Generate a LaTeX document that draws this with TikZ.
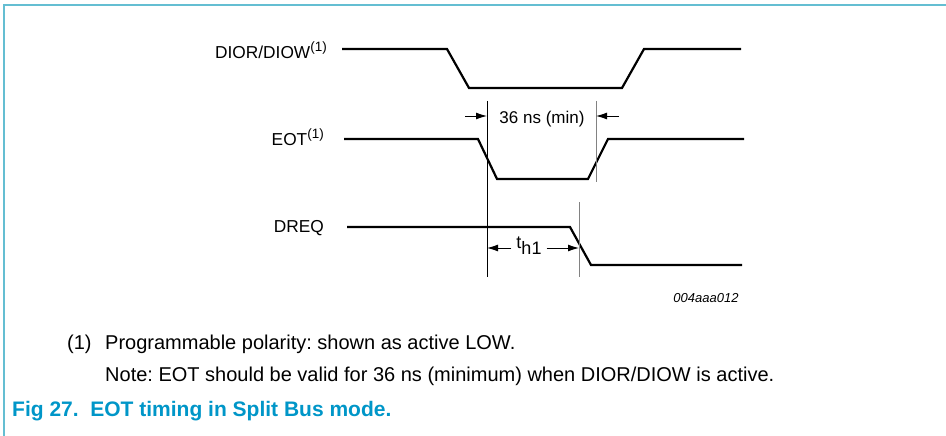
\documentclass[tikz,border=0pt]{standalone}
\usepackage{fontspec}
\setmainfont{Liberation Sans}
\usetikzlibrary{arrows.meta}
\definecolor{figblue}{RGB}{0,150,200}
\definecolor{framecol}{RGB}{100,190,210}
\definecolor{guidegray}{RGB}{130,130,130}
\tikzstyle{wave} = [draw, line width=2.2pt, line join=miter]
\tikzstyle{guide} = [draw, line width=0.9pt]
\tikzstyle{dim} = [draw, line width=0.9pt, -{Latex[length=11pt,width=7pt]}]
\tikzstyle{sig} = [anchor=east, inner sep=0pt, font=\fontsize{17.3}{19}\selectfont]
\tikzstyle{txt} = [inner sep=0pt, font=\fontsize{17}{19}\selectfont]
\tikzstyle{notetxt} = [inner sep=0pt, anchor=west, font=\fontsize{20}{22}\selectfont\frenchspacing]
\newcommand{\fn}{\raisebox{7pt}{\fontsize{13.5}{13.5}\selectfont(1)}}

\begin{document}
\begin{tikzpicture}[x=1pt,y=-1pt]
\useasboundingbox (0,0) rectangle (946,436);
% frame
\draw[framecol, line width=2pt] (4,436) -- (4,5) -- (946,5);
% signal names
\node[sig] (dior) at (327,50) {DIOR/DIOW\fn};
\node[sig] (eot) at (324,137) {EOT\fn};
\node[sig] (dreq) at (324,228) {DREQ};
% waveforms
\draw[wave] (342,49) -- (447,49) -- (469,88) -- (622,88) -- (644,49) -- (741,49);
\draw[wave] (344,139) -- (478,139) -- (497,179) -- (588,179) -- (608,139) -- (744,139);
\draw[wave] (347,227) -- (570,227) -- (591,265) -- (742,265);
% guide lines
\draw[guide] (487,101) -- (487,277);
\draw[guide, guidegray] (596,101) -- (596,182);
\draw[guide, guidegray] (579,202) -- (579,277);
% 36 ns
\node[txt] (tmin) at (542,119) {36 ns (min)};
\coordinate (al) at (465,116);
\coordinate (gl) at (487,116);
\coordinate (ar) at (619,116);
\coordinate (gr) at (596,116);
\draw[dim] (al) -- (gl);
\draw[dim] (ar) -- (gr);
% t_h1
\node[txt, inner xsep=5pt, font=\fontsize{18}{20}\selectfont] (th) at (529,246) {t\raisebox{-6pt}{h1}};
\coordinate (hl) at (487,248);
\coordinate (hr) at (579,248);
\draw[dim] (th.west |- hl) -- (hl);
\draw[dim] (th.east |- hr) -- (hr);
% figure code
\node[inner sep=0pt, font=\fontsize{13}{15}\selectfont\itshape] (code) at (706,298) {004aaa012};
% notes
\node[notetxt] (fnum) at (67,344) {(1)};
\node[notetxt] (fnote) at (105,344) {Programmable polarity: shown as active LOW.};
\node[notetxt] (note) at (105,376) {Note: EOT should be valid for 36 ns (minimum) when DIOR/DIOW is active.};
\node[inner sep=0pt, anchor=west, text=figblue, font=\fontsize{21}{23}\selectfont\bfseries] (cap) at (12,411) {Fig 27.\ \ EOT timing in Split Bus mode.};
\end{tikzpicture}
\end{document}
